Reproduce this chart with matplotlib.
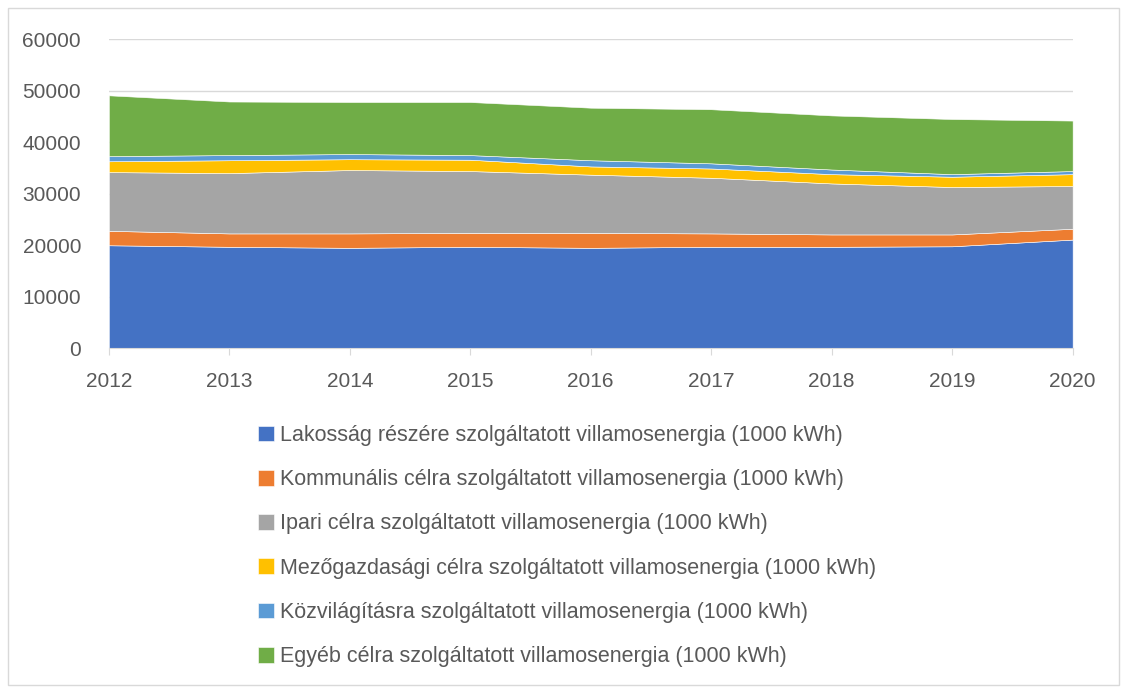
import numpy as np
import matplotlib
matplotlib.use('Agg')
import matplotlib.pyplot as plt
from matplotlib.patches import Rectangle

# Data (1000 kWh)
years = [2012, 2013, 2014, 2015, 2016, 2017, 2018, 2019, 2020]
lakossag = [20000, 19700, 19500, 19700, 19500, 19700, 19700, 19800, 21100]
kommunalis = [2800, 2600, 2800, 2700, 2900, 2600, 2400, 2300, 2100]
ipari = [11400, 11700, 12300, 12000, 11300, 10800, 9900, 9200, 8300]
mezogazdasagi = [2100, 2500, 2100, 2200, 1600, 1800, 1800, 2000, 2300]
kozvilagitas = [1000, 1000, 1000, 900, 1200, 1000, 900, 500, 600]
egyeb = [11800, 10400, 10100, 10300, 10200, 10500, 10500, 10700, 9800]

labels = [
    "Lakosság részére szolgáltatott villamosenergia (1000 kWh)",
    "Kommunális célra szolgáltatott villamosenergia (1000 kWh)",
    "Ipari célra szolgáltatott villamosenergia (1000 kWh)",
    "Mezőgazdasági célra szolgáltatott villamosenergia (1000 kWh)",
    "Közvilágításra szolgáltatott villamosenergia (1000 kWh)",
    "Egyéb célra szolgáltatott villamosenergia (1000 kWh)",
]
colors = ["#4472C4", "#ED7D31", "#A5A5A5", "#FFC000", "#5B9BD5", "#70AD47"]

plt.rcParams['font.family'] = ['Liberation Sans', 'DejaVu Sans']

fig = plt.figure(figsize=(11.22, 6.87), dpi=100)
ax = fig.add_axes([0.097, 0.493, 0.859, 0.45])

series = [lakossag, kommunalis, ipari, mezogazdasagi, kozvilagitas, egyeb]
polys = ax.stackplot(years, *series, colors=colors, labels=labels,
                     edgecolor='white', linewidth=0.4, zorder=2)

ax.set_xlim(2012, 2020)
ax.set_ylim(0, 60000)
ax.set_yticks(np.arange(0, 60001, 10000))
ax.set_xticks(years)
ax.grid(axis='y', color='#D9D9D9', linewidth=1, zorder=0)
ax.set_axisbelow(True)
for s in ['top', 'right', 'left']:
    ax.spines[s].set_visible(False)
ax.spines['bottom'].set_color('#D9D9D9')
ax.tick_params(axis='y', length=0, labelsize=15, colors='#595959', pad=20)
ax.tick_params(axis='x', length=5, color='#D9D9D9', labelsize=15,
               colors='#595959', pad=12)

fig.legend(handles=polys, labels=labels, loc='upper left',
           bbox_to_anchor=(0.222, 0.394), frameon=False, fontsize=15.5,
           labelcolor='#595959', handlelength=0.75, handleheight=0.75,
           handletextpad=0.3, labelspacing=1.08, borderaxespad=0)

# outer chart border
fig.patches.append(Rectangle((0.007, 0.003), 0.99, 0.985, transform=fig.transFigure,
                             fill=False, edgecolor='#D9D9D9', linewidth=1))

fig.savefig('out.png', dpi=100)
